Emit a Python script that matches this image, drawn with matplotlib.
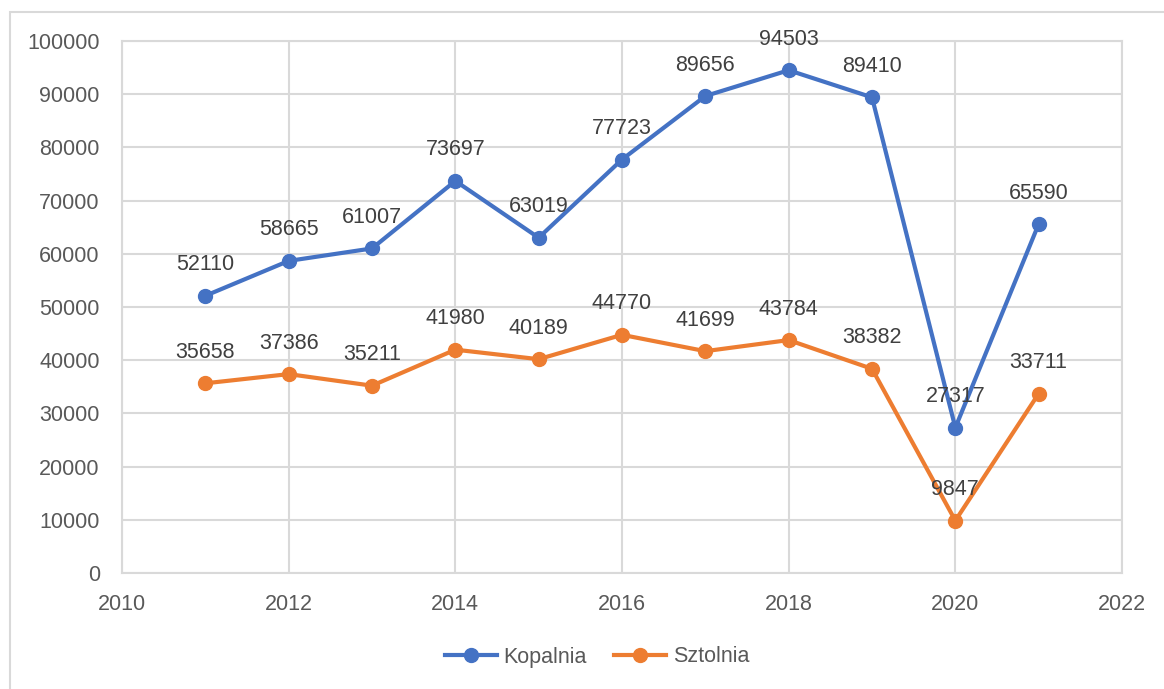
import numpy as np
import matplotlib
matplotlib.use("Agg")
import matplotlib.pyplot as plt
from matplotlib.patches import Rectangle

years = [2011, 2012, 2013, 2014, 2015, 2016, 2017, 2018, 2019, 2020, 2021]
kopalnia = [52110, 58665, 61007, 73697, 63019, 77723, 89656, 94503, 89410, 27317, 65590]
sztolnia = [35658, 37386, 35211, 41980, 40189, 44770, 41699, 43784, 38382, 9847, 33711]
series_names = ["Kopalnia", "Sztolnia"]
colors = ["#4472C4", "#ED7D31"]

plt.rcParams['font.family'] = ['Liberation Sans', 'DejaVu Sans']

fig = plt.figure(figsize=(11.64, 6.89), dpi=100)
ax = fig.add_axes([122 / 1164, 116 / 689, 1000 / 1164, 532 / 689])

# outer chart border
fig.patches.append(Rectangle((10 / 1164, -0.05), 1.2, (689 - 12) / 689 + 0.05,
                             transform=fig.transFigure, fill=False,
                             edgecolor="#D9D9D9", linewidth=1.5))

for vals, name, c in zip([kopalnia, sztolnia], series_names, colors):
    ax.plot(years, vals, '-o', color=c, linewidth=3, markersize=10,
            label=name, zorder=3)
    for x, y in zip(years, vals):
        ax.annotate(str(y), (x, y), xytext=(0, 31), textcoords='offset pixels',
                    ha='center', va='center', fontsize=15.5, color='#404040',
                    zorder=4)

ax.set_xlim(2010, 2022)
ax.set_ylim(0, 100000)
ax.set_xticks(np.arange(2010, 2023, 2))
ax.set_yticks(np.arange(0, 100001, 10000))
ax.grid(True, color='#D9D9D9', linewidth=1.5)
ax.set_axisbelow(True)
for s in ax.spines.values():
    s.set_color('#D9D9D9')
    s.set_linewidth(1.5)
ax.tick_params(length=0, labelsize=15.5, labelcolor='#595959')
ax.tick_params(axis='x', pad=15)
ax.tick_params(axis='y', pad=16)

ax.legend(loc='center', bbox_to_anchor=(597 / 1164, (689 - 657) / 689),
          bbox_transform=fig.transFigure, ncol=2, frameon=False,
          fontsize=15.5, labelcolor='#595959', handlelength=2.4,
          columnspacing=1.3, handletextpad=0.3)

fig.savefig("out.png", dpi=100)
